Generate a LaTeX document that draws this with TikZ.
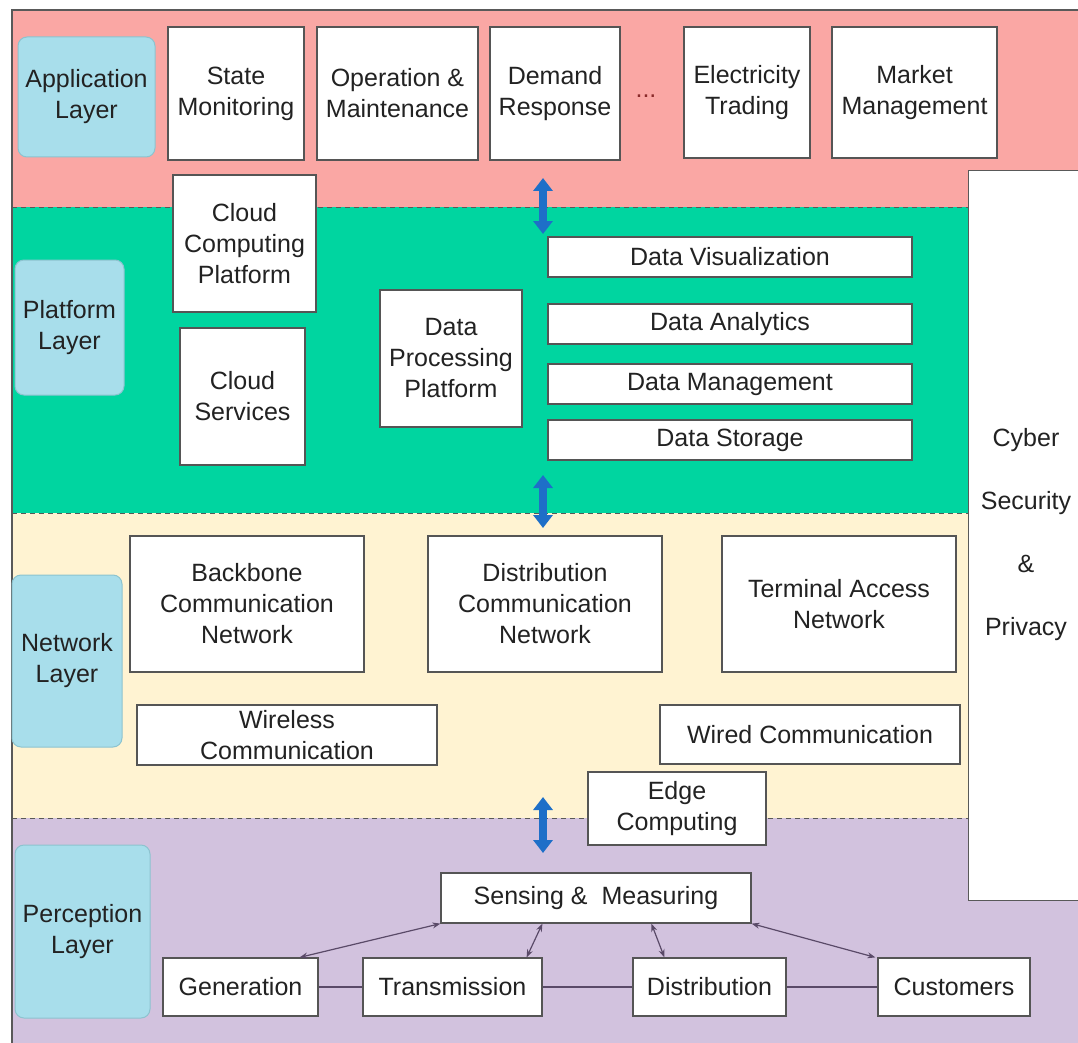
\documentclass[tikz,border=0pt]{standalone}
\usepackage{fontspec}
\setmainfont{Liberation Sans}
\usetikzlibrary{arrows.meta,calc}
\definecolor{appbg}{HTML}{FAA7A4}
\definecolor{platbg}{HTML}{00D5A0}
\definecolor{netbg}{HTML}{FFF3D2}
\definecolor{percbg}{HTML}{D2C2DE}
\definecolor{lblfill}{HTML}{A8DEEB}
\definecolor{lbledge}{HTML}{8CC3CF}
\definecolor{boxedge}{HTML}{555555}
\definecolor{txt}{HTML}{222222}
\definecolor{layerarrow}{HTML}{1E6FC8}
\definecolor{linkcol}{HTML}{5A4A68}
\definecolor{dotcol}{HTML}{8A2A2A}
\begin{document}
\begin{tikzpicture}[x=1pt,y=-1pt,
  every node/.style={font=\fontsize{25}{31}\selectfont, text=txt},
  box/.style={draw=boxedge, line width=1.2pt, fill=white, align=center, inner sep=0pt},
  layerlabel/.style={draw=lbledge, line width=1pt, fill=lblfill, rounded corners=9pt, align=center, inner sep=0pt},
  sep/.style={draw=gray!70!black, line width=1pt, dash pattern=on 5pt off 4pt},
  layerlink/.style={draw=layerarrow, line width=8pt, {Triangle[length=13pt,width=19pt]}-{Triangle[length=13pt,width=19pt]}},
  sensor/.style={draw=linkcol, line width=1.2pt, {Stealth[length=8pt,width=6pt]}-{Stealth[length=8pt,width=6pt]}},
  chain/.style={draw=linkcol, line width=1.5pt}
]
\useasboundingbox (0,0) rectangle (1078,1043);

% layer backgrounds
\fill[appbg]  (12,10)  rectangle (1090,207);
\fill[platbg] (12,207) rectangle (968,513);
\fill[netbg]  (12,513) rectangle (968,818);
\fill[percbg] (12,818) rectangle (1090,1050);
\draw[gray!70!black, line width=1.2pt] (1090,10) -- (12,10) -- (12,1050);
\draw[sep] (12,207) -- (968,207);
\draw[sep] (12,513) -- (968,513);
\draw[sep] (12,818) -- (968,818);

% security column
\node[box, anchor=north west, minimum width=122pt, minimum height=730pt, draw=gray!70!black] (sec) at (968,170) {};
\node[align=center, font=\fontsize{25}{63}\selectfont] (sectext) at (1026,535) {Cyber\\Security\\\&\\Privacy};

% application layer
\node[layerlabel, minimum width=137pt, minimum height=120pt] (applbl) at (86.5,97) {Application\\Layer};
\node[box, minimum width=136pt, minimum height=133pt] (sm) at (236,93.5) {State\\Monitoring};
\node[box, minimum width=161pt, minimum height=133pt] (om) at (397.5,93.5) {Operation \&\\Maintenance};
\node[box, minimum width=130pt, minimum height=133pt] (dr) at (555,93.5) {Demand\\Response};
\node[text=dotcol] (dots) at (646,96) {...};
\node[box, minimum width=126pt, minimum height=131pt] (et) at (747,92.5) {Electricity\\Trading};
\node[box, minimum width=165pt, minimum height=131pt] (mm) at (914.5,92.5) {Market\\Management};

% platform layer
\node[layerlabel, minimum width=109pt, minimum height=135pt] (platlbl) at (69.5,327.5) {Platform\\Layer};
\node[box, minimum width=143pt, minimum height=137pt] (ccp) at (244.5,243.5) {Cloud\\Computing\\Platform};
\node[box, minimum width=125pt, minimum height=137pt] (cs) at (242.5,396.5) {Cloud\\Services};
\node[box, minimum width=142pt, minimum height=137pt] (dpp) at (451,358.5) {Data\\Processing\\Platform};
\node[box, minimum width=364pt, minimum height=40pt] (dv) at (730,257) {Data Visualization};
\node[box, minimum width=364pt, minimum height=40pt] (da) at (730,324) {Data Analytics};
\node[box, minimum width=364pt, minimum height=40pt] (dm) at (730,384) {Data Management};
\node[box, minimum width=364pt, minimum height=40pt] (ds) at (730,440) {Data Storage};

% network layer
\node[layerlabel, minimum width=110pt, minimum height=172pt] (netlbl) at (67,661) {Network\\Layer};
\node[box, minimum width=234pt, minimum height=136pt] (bcn) at (247,604) {Backbone\\Communication\\Network};
\node[box, minimum width=234pt, minimum height=136pt] (dcn) at (545,604) {Distribution\\Communication\\Network};
\node[box, minimum width=234pt, minimum height=136pt] (tan) at (839,604) {Terminal Access\\Network};
\node[box, minimum width=300pt, minimum height=60pt] (wlc) at (287,735) {Wireless\\Communication};
\node[box, minimum width=300pt, minimum height=59pt] (wdc) at (810,734.5) {Wired Communication};
\node[box, minimum width=178pt, minimum height=73pt] (edge) at (677,808.5) {Edge\\Computing};

% perception layer
\node[layerlabel, minimum width=135pt, minimum height=173pt] (perclbl) at (82.5,931.5) {Perception\\Layer};
\node[box, minimum width=310pt, minimum height=50pt] (sens) at (596,898) {Sensing \&\ \ Measuring};
\node[box, minimum width=155pt, minimum height=58pt] (gen) at (240.5,987) {Generation};
\node[box, minimum width=179pt, minimum height=58pt] (tra) at (452.5,987) {Transmission};
\node[box, minimum width=153pt, minimum height=58pt] (dis) at (709.5,987) {Distribution};
\node[box, minimum width=152pt, minimum height=58pt] (cus) at (954,987) {Customers};

% links between layers
\coordinate (l1a) at (543,178);  \coordinate (l1b) at (543,234);
\coordinate (l2a) at (543,475);  \coordinate (l2b) at (543,528);
\coordinate (l3a) at (543,797);  \coordinate (l3b) at (543,853);
\draw[layerlink] (l1a) -- (l1b);
\draw[layerlink] (l2a) -- (l2b);
\draw[layerlink] (l3a) -- (l3b);

% power chain
\draw[chain] (gen.east) -- (tra.west);
\draw[chain] (tra.east) -- (dis.west);
\draw[chain] (dis.east) -- (cus.west);

% sensing links
\draw[sensor] (sens.south west) -- ($(gen.north east)+(-19,0)$);
\draw[sensor] ($(sens.south west)+(102,0)$) -- ($(tra.north east)+(-16,0)$);
\draw[sensor] ($(sens.south west)+(211,0)$) -- ($(dis.north west)+(32,0)$);
\draw[sensor] (sens.south east) -- ($(cus.north west)+(-2,0)$);
\end{tikzpicture}
\end{document}
